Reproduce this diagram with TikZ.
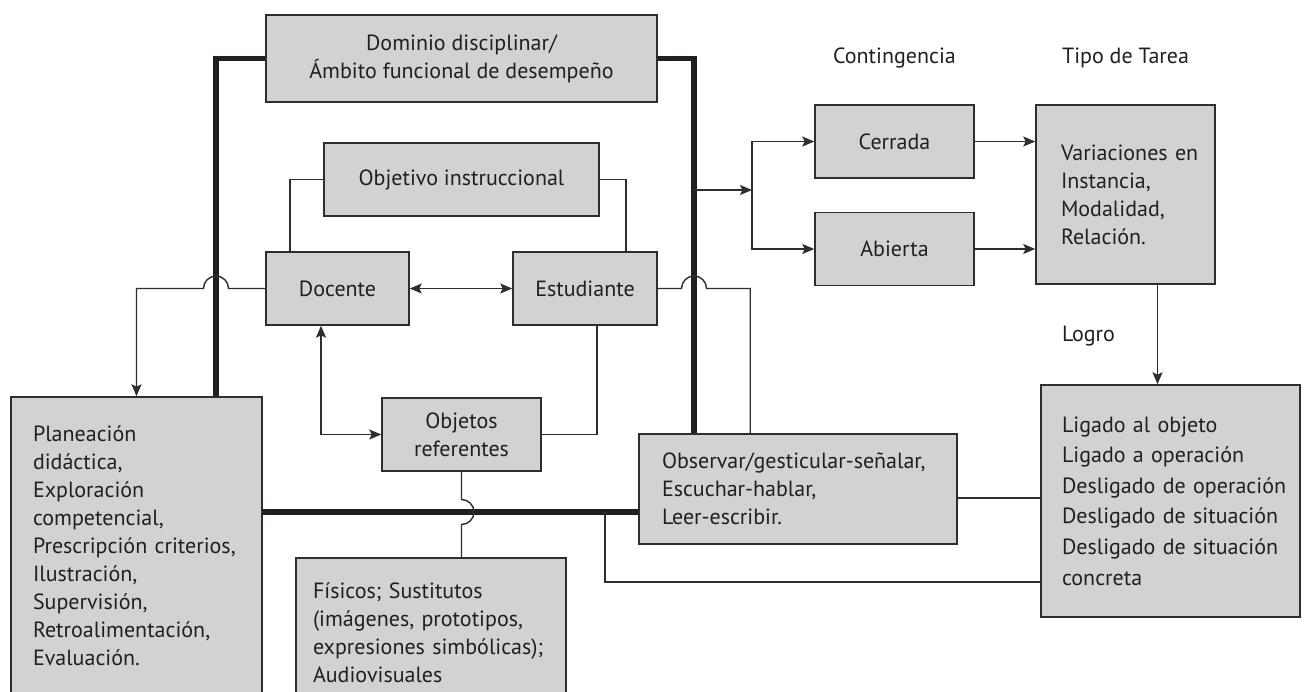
\documentclass[tikz,border=0pt]{standalone}
\usepackage{fontspec}
\setmainfont{PT Sans}
\usetikzlibrary{arrows.meta,calc,positioning}
\definecolor{cajagris}{HTML}{D1D2D4}
\definecolor{borde}{HTML}{2E2E30}
\definecolor{tinta}{HTML}{231F20}

\begin{document}
\begin{tikzpicture}[x=1pt, y=-1pt,
  font=\fontsize{22}{28}\selectfont,
  caja/.style={draw=borde, line width=1.5pt, fill=cajagris, rectangle, inner sep=0pt, text=tinta},
  lista/.style={caja, align=left, execute at begin node={\hyphenpenalty=10000\exhyphenpenalty=10000}},
  linea/.style={draw=borde, line width=1.4pt},
  flecha/.style={linea, -{Stealth[length=12pt, width=10pt, inset=2.5pt]}},
  doble/.style={linea, {Stealth[length=12pt, width=10pt, inset=2.5pt]}-{Stealth[length=12pt, width=10pt, inset=2.5pt]}},
  marco/.style={draw=tinta, line width=5.5pt, line join=miter},
  titulo/.style={text=tinta, inner sep=0pt}]
  \clip (0,0) rectangle (1304,691);
  \fill[white] (0,0) rectangle (1304,691);

  % Cajas
  \node[caja, minimum width=391pt, minimum height=87pt, align=center] (dominio) at (461.5,58.5) {Dominio disciplinar/\\Ámbito funcional de desempeño};
  \node[caja, minimum width=275pt, minimum height=73pt] (objetivo) at (461.5,179.5) {Objetivo instruccional};
  \node[caja, minimum width=143pt, minimum height=73pt] (docente) at (337.5,288.5) {Docente};
  \node[caja, minimum width=144pt, minimum height=73pt] (estudiante) at (585,288.5) {Estudiante};
  \node[caja, minimum width=159pt, minimum height=73pt, align=center] (objetos) at (461.5,434.5) {Objetos\\referentes};
  \node[lista, text width=207pt, inner xsep=22pt, minimum height=297pt] (planeacion) at (136.5,545.5) {Planeación\\didáctica,\\Exploración\\competencial,\\Prescripción~criterios,\\Ilustración,\\Supervisión,\\Retroalimentación,\\Evaluación.};
  \node[lista, text width=236pt, inner xsep=17pt, minimum height=149pt] (fisicos) at (431,632.5) {Físicos; Sustitutos\\(imágenes, prototipos,\\expresiones~simbólicas);\\Audiovisuales};
  \node[lista, text width=272pt, inner xsep=23pt, minimum height=110pt] (observar) at (798,489) {Observar/gesticular-señalar,\\Escuchar-hablar,\\Leer-escribir.};
  \node[caja, minimum width=159pt, minimum height=73pt] (cerrada) at (894.5,141.5) {Cerrada};
  \node[caja, minimum width=159pt, minimum height=73pt, below=33pt of cerrada] (abierta) {Abierta};
  \node[lista, text width=129pt, inner xsep=25pt, minimum height=179pt] (tipo) at (1125.5,194.5) {Variaciones~en\\Instancia,\\Modalidad,\\Relación.};
  \node[lista, text width=217pt, inner xsep=21pt, minimum height=232pt, font=\fontsize{22}{30.6}\selectfont] (ligado) at (1170.5,501) {Ligado al objeto\\Ligado a operación\\Desligado~de~operación\\Desligado~de~situación\\Desligado~de~situación\\concreta};

  % Rotulos
  \node[titulo] (contingencia) at (894.5,58) {Contingencia};
  \node[titulo] (tipotarea) at (1125.5,58) {Tipo de Tarea};
  \node[titulo] (logro) at (1088.5,336) {Logro};

  % Marco grueso
  \coordinate (izq) at (216,0);
  \coordinate (der) at (694,0);
  \coordinate (abajo) at (0,512);
  \draw[marco] (dominio.west) -| (izq |- planeacion.north);
  \draw[marco] (dominio.east) -| (der |- observar.north);
  \draw[marco] (abajo -| planeacion.east) -- (abajo -| observar.west);

  % Conexiones internas
  \draw[linea] (objetivo.west) -| ($(docente.north)+(-47.5,0)$);
  \draw[linea] (objetivo.east) -| ($(estudiante.north)+(41,0)$);
  \draw[doble] (docente) -- (estudiante);
  \draw[doble] ($(docente.south)+(-16.5,0)$) |- (objetos.west);
  \draw[linea] ($(estudiante.south)+(12,0)$) |- (objetos.east);

  % Saltos sobre el marco
  \draw[flecha] (docente.west) -- ($(izq |- docente.west)+(12.5,0)$) arc[start angle=0, end angle=-180, radius=12.5] -| (planeacion.north);
  \draw[linea] (estudiante.east) -- ($(der |- estudiante.east)+(-12.5,0)$) arc[start angle=180, end angle=360, radius=12.5] -| ($(observar.north west)+(112,0)$);
  \draw[linea] (objetos.south) -- ($(objetos.south |- abajo)+(0,-12.5)$) arc[start angle=-90, end angle=90, radius=12.5] -- (objetos.south |- fisicos.north);

  % Contingencia y tarea
  \coordinate (rama) at (752,190);
  \draw[flecha] (der |- rama) -- (rama);
  \draw[flecha] (rama) |- (cerrada.west);
  \draw[flecha] (rama) |- (abierta.west);
  \draw[flecha] (cerrada.east) -- (cerrada.east -| tipo.west);
  \draw[flecha] (abierta.east) -- (abierta.east -| tipo.west);
  \coordinate (bajada) at ($(tipo.south)+(32,0)$);
  \draw[flecha] (bajada) -- (bajada |- ligado.north);

  % Hacia el logro
  \coordinate (salida) at ($(observar.east)+(0,9)$);
  \draw[linea] (salida) -- (salida -| ligado.west);
  \coordinate (retorno) at (605,512);
  \coordinate (fondo) at (605,582);
  \draw[linea] (retorno) |- (fondo -| ligado.west);
\end{tikzpicture}
\end{document}
